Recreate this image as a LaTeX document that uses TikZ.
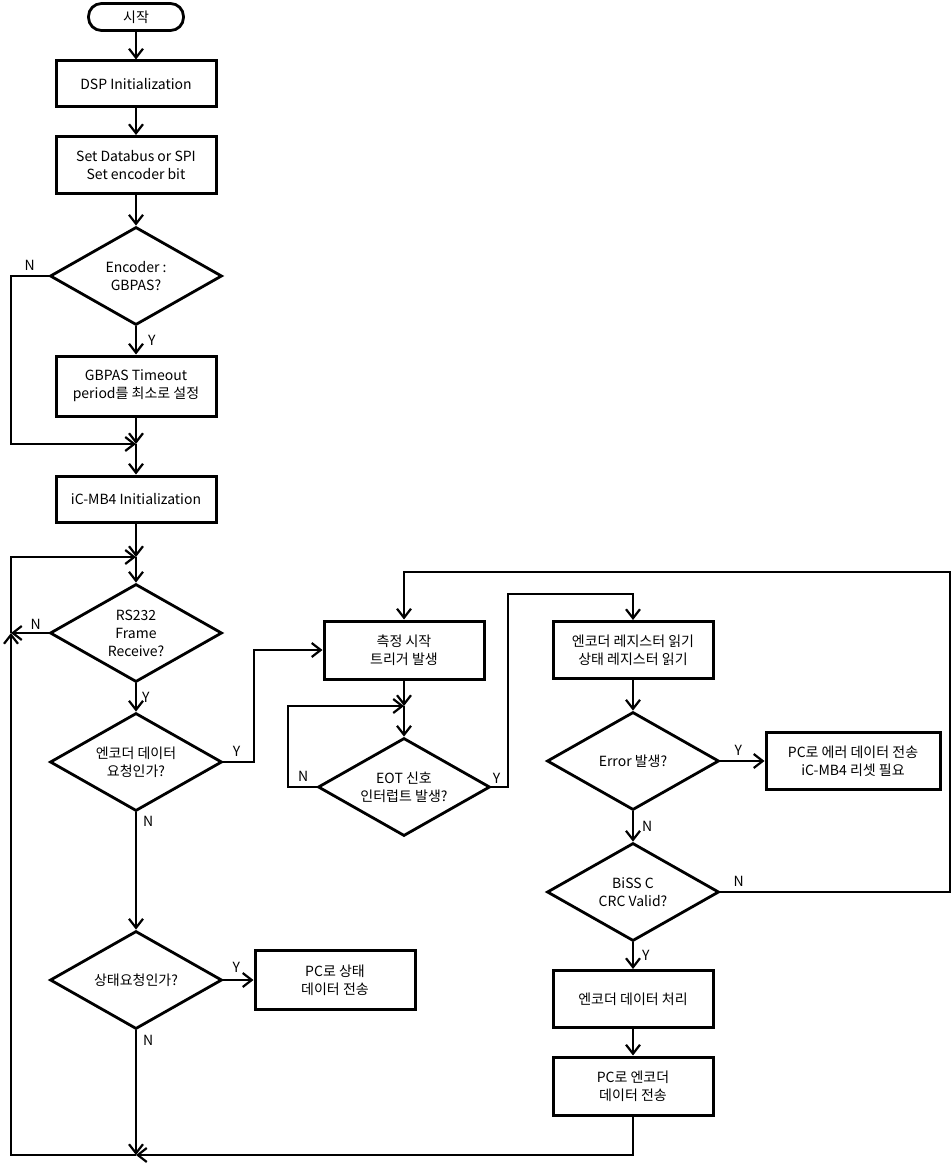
\documentclass[tikz,border=0pt]{standalone}
\usepackage{fontspec}
\setmainfont{Noto Sans CJK KR}
\usetikzlibrary{shapes.geometric,arrows.meta}

\begin{document}
\begin{tikzpicture}[x=1pt,y=-1pt,line width=2.2pt,
        font=\fontsize{14}{18}\selectfont,
        >={Straight Barb[length=9pt,width=14pt]},
        box/.style={draw,line width=3pt,minimum width=160pt,minimum height=46pt,align=center,inner sep=0pt},
        term/.style={draw,line width=2.8pt,rounded corners=13pt,minimum width=95pt,minimum height=27pt},
        cond/.style={draw,diamond,line width=2.8pt,aspect=1.75,minimum width=172pt,minimum height=98pt,align=center,inner sep=0pt},
        yn/.style={font=\fontsize{14}{16}\selectfont,inner sep=2pt}]
            \useasboundingbox (0,0) rectangle (951,1166);
            \node[term] at (136,17) (start) {시작};
            \node[box] at (136,84) (dsp) {DSP Initialization};
            \node[box,minimum height=57pt] at (136,165) (set) {Set Databus or SPI\\Set encoder bit};
            \node[cond] at (136,276) (enc) {Encoder :\\GBPAS?};
            \node[box,minimum height=60pt] at (136,386) (tmo) {GBPAS Timeout\\period를 최소로 설정};
            \node[box] at (136,499) (mb4) {iC-MB4 Initialization};
            \node[cond] at (136,633) (rs) {RS232\\Frame\\Receive?};
            \node[cond] at (136,762) (req) {엔코더 데이터\\요청인가?};
            \node[cond] at (136,980) (stq) {상태요청인가?};
            \node[box,minimum height=59pt] at (335,980) (pcst) {PC로 상태\\데이터 전송};
            \node[box,minimum height=58pt] at (404,650) (trig) {측정 시작\\트리거 발생};
            \node[cond] at (404,787) (eot) {EOT 신호\\인터럽트 발생?};
            \node[box,minimum height=57pt] at (633,650) (reg) {엔코더 레지스터 읽기\\상태 레지스터 읽기};
            \node[cond] at (633,761) (err) {Error 발생?};
            \node[box,minimum width=174pt,minimum height=57pt] at (853,761) (pcerr) {PC로 에러 데이터 전송\\iC-MB4 리셋 필요};
            \node[cond] at (633,892) (biss) {BiSS C\\CRC Valid?};
            \node[box,minimum height=57pt] at (633,999) (proc) {엔코더 데이터 처리};
            \node[box,minimum height=58pt] at (633,1086) (pcenc) {PC로 엔코더\\데이터 전송};
            \coordinate (m1) at (136,444);
            \coordinate (m2) at (136,557);
            \coordinate (m3) at (404,706);
            \coordinate (bot) at (136,1155);
            \coordinate (l1) at (11,444);
            \coordinate (l2) at (11,633);
            \coordinate (l3) at (288,706);
            \coordinate (c1) at (508,594);
            \coordinate (c2) at (254,650);
            \coordinate (c3) at (950,572);
            \draw[->] (start) to (dsp);
            \draw[->] (dsp) to (set);
            \draw[->] (set) to (enc);
            \draw[->] (enc) to node[yn,right,xshift=9pt]{Y} (tmo);
            \draw[->] (enc.west) -- node[yn,above,yshift=2pt]{N} (enc.west -| l1) -- (l1) -- (m1);
            \draw[->] (tmo) to (m1);
            \draw[->] (m1) to (mb4);
            \draw[->] (mb4) to (m2);
            \draw[->] (m2) to (rs);
            \draw[->] (rs) to node[yn,right,xshift=3pt]{Y} (req);
            \draw[->] (rs.west) -- node[yn,above,xshift=6pt]{N} (l2);
            \draw[->] (l2) |- (m2);
            \draw[->] (req.east) -- node[yn,above,xshift=-2pt,yshift=2pt]{Y} (req.east -| c2) -- (c2) -- (trig);
            \draw[->] (req) to node[yn,right,pos=0.08,xshift=4pt]{N} (stq);
            \draw[->] (stq) to node[yn,above,xshift=-2pt,yshift=4pt]{Y} (pcst);
            \draw[->] (stq) to node[yn,right,pos=0.08,xshift=4pt]{N} (bot);
            \draw[->] (pcenc) |- (bot);
            \draw[->] (bot) -| (l2);
            \draw[->] (trig) to (m3);
            \draw[->] (m3) to (eot);
            \draw[->] (eot.west) -- node[yn,above,xshift=1pt,yshift=2pt]{N} (eot.west -| l3) -- (l3) -- (m3);
            \draw[->] (eot.east) -- node[yn,above,xshift=-3pt]{Y} (eot.east -| c1) -- (c1) -| (reg);
            \draw[->] (reg) to (err);
            \draw[->] (err) to node[yn,above,xshift=-4pt,yshift=2pt]{Y} (pcerr);
            \draw[->] (err) to node[yn,right,xshift=6pt]{N} (biss);
            \draw[->] (biss.east) -- node[yn,above,pos=0.08,yshift=2pt]{N} (biss.east -| c3) -- (c3) -| (trig);
            \draw[->] (biss) to node[yn,right,xshift=6pt]{Y} (proc);
            \draw[->] (proc) to (pcenc);
        \end{tikzpicture}
\end{document}
